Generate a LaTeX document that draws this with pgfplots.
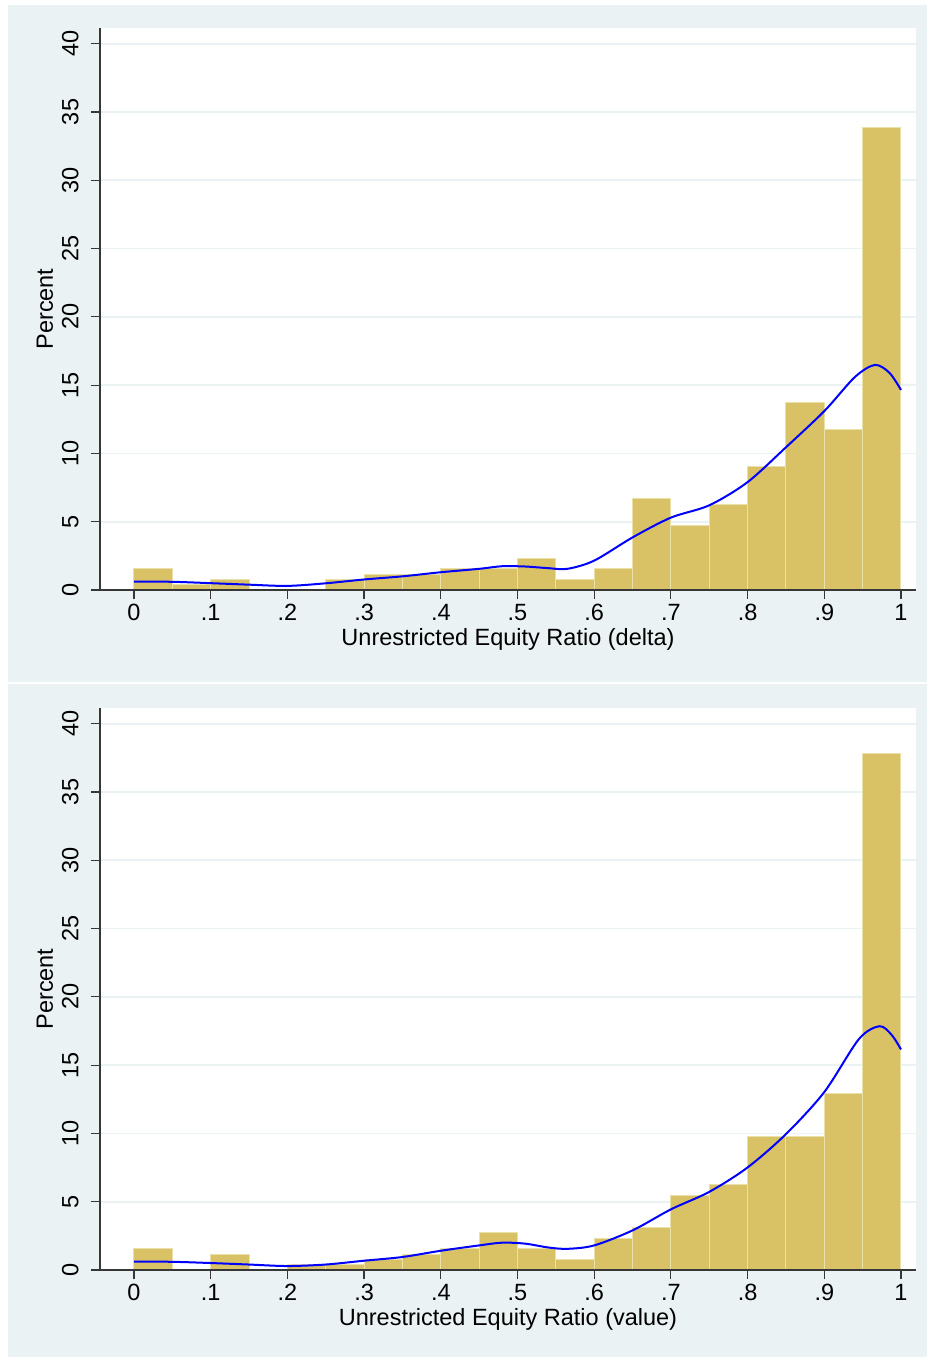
\documentclass[border=0pt]{standalone}
\usepackage{fontspec}
\setmainfont{Liberation Sans}
\usepackage{pgfplots}
\pgfplotsset{compat=1.18}
\definecolor{bgc}{RGB}{234,242,243}
\definecolor{barc}{RGB}{216,194,101}
\definecolor{baredge}{RGB}{233,224,170}
\definecolor{axc}{RGB}{55,55,55}
\newcommand{\lblfont}{\fontsize{11.75}{14}\selectfont}
\pgfplotsset{
  hist/.style={
    scale only axis, width=408pt, height=281pt,
    xmin=-0.04433, xmax=1.01956, ymin=0, ymax=41.15,
    axis lines*=left,
    axis line style={axc, line width=0.6pt},
    tick align=outside, major tick length=4.5pt,
    tick style={axc, line width=0.6pt},
    xtick={0,0.1,0.2,0.3,0.4,0.5,0.6,0.7,0.8,0.9,1},
    xticklabels={0,.1,.2,.3,.4,.5,.6,.7,.8,.9,1},
    ytick={0,5,10,15,20,25,30,35,40},
    yticklabels={0,5,10,15,20,25,30,35,40},
    ymajorgrids, major grid style={bgc, line width=0.8pt},
    tick label style={font=\lblfont},
    label style={font=\lblfont},
    yticklabel style={rotate=90, anchor=south, inner sep=0pt, yshift=6pt},
    xticklabel style={anchor=north, inner sep=0pt, yshift=-2.5pt},
    xlabel style={at={(axis description cs:0.5,-0.0872)}, anchor=center},
    ylabel style={at={(axis description cs:-0.0674,0.5)}, anchor=center},
    ylabel={Percent},
  },
  histbar/.style={ybar interval, fill=barc, draw=baredge, line width=0.5pt},
  kde/.style={blue, line width=1pt, smooth, tension=0.5},
}
\begin{document}
\begin{tikzpicture}
\useasboundingbox (0pt,0pt) rectangle (463.5pt,678.5pt);
\fill[white] (0pt,0pt) rectangle (463.5pt,678.5pt);
\fill[bgc] (4pt,337.25pt) rectangle (463.5pt,676pt);
\fill[bgc] (4pt,0pt) rectangle (463.5pt,336.5pt);
\fill[white] (50pt,383.5pt) rectangle (458pt,664.5pt);
\fill[white] (50pt,43.5pt) rectangle (458pt,324.5pt);

% top panel
\begin{axis}[hist, at={(50pt,383.5pt)}, anchor=south west,
  xlabel={Unrestricted Equity Ratio (delta)}]
\addplot[histbar] coordinates {
(0,1.54) (0.05,0.37) (0.10,0.75) (0.15,0) (0.20,0) (0.25,0.75)
(0.30,1.12) (0.35,1.12) (0.40,1.54) (0.45,1.54) (0.50,2.32)
(0.55,0.75) (0.60,1.54) (0.65,6.67) (0.70,4.71) (0.75,6.25)
(0.80,9.03) (0.85,13.74) (0.90,11.77) (0.95,33.85) (1.00,0)};
\addplot[kde] coordinates {
(0,0.61) (0.05,0.6) (0.1,0.5) (0.15,0.39) (0.2,0.3) (0.25,0.49)
(0.3,0.77) (0.35,1.0) (0.4,1.3) (0.45,1.55) (0.48,1.74) (0.51,1.72)
(0.54,1.6) (0.565,1.55) (0.6,2.15) (0.65,3.85) (0.7,5.3) (0.75,6.2)
(0.8,7.9) (0.85,10.45) (0.9,13.1) (0.94,15.6) (0.966,16.48) (0.985,15.9) (1,14.65)};
\draw[axc, line width=0.6pt] (rel axis cs:0,0) -- (rel axis cs:1,0);
\end{axis}

% bottom panel
\begin{axis}[hist, at={(50pt,43.5pt)}, anchor=south west,
  xlabel={Unrestricted Equity Ratio (value)}]
\addplot[histbar] coordinates {
(0,1.54) (0.05,0) (0.10,1.15) (0.15,0) (0.20,0.37) (0.25,0.37)
(0.30,0.75) (0.35,1.15) (0.40,1.54) (0.45,2.73) (0.50,1.54)
(0.55,0.75) (0.60,2.31) (0.65,3.08) (0.70,5.46) (0.75,6.23)
(0.80,9.77) (0.85,9.77) (0.90,12.9) (0.95,37.8) (1.00,0)};
\addplot[kde] coordinates {
(0,0.61) (0.05,0.6) (0.1,0.51) (0.15,0.4) (0.2,0.29) (0.25,0.4)
(0.3,0.68) (0.35,0.95) (0.4,1.41) (0.45,1.8) (0.48,2.0) (0.51,1.93)
(0.54,1.65) (0.565,1.55) (0.6,1.8) (0.65,2.9) (0.7,4.44) (0.75,5.72)
(0.8,7.51) (0.85,9.95) (0.9,13.03) (0.945,16.9) (0.972,17.85) (0.988,17.2) (1,16.15)};
\draw[axc, line width=0.6pt] (rel axis cs:0,0) -- (rel axis cs:1,0);
\end{axis}
\end{tikzpicture}
\end{document}
